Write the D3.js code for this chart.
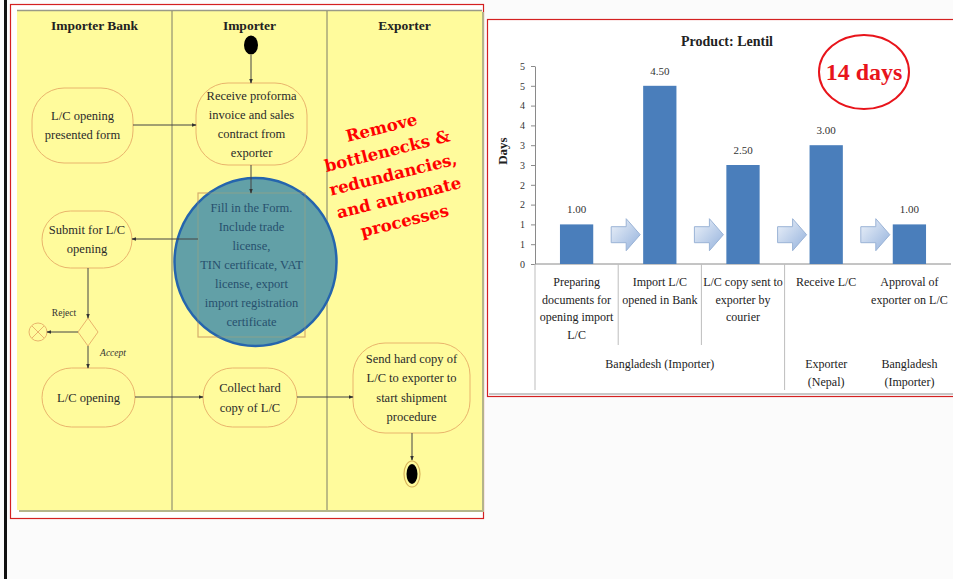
<!DOCTYPE html>
<html>
<head>
<meta charset="utf-8">
<script src="https://cdn.jsdelivr.net/npm/d3@7"></script>
<style>
  html, body { margin: 0; padding: 0; background: #fbfbfb; }
  svg { display: block; }
</style>
</head>
<body>
<svg id="view" width="953" height="579"></svg>
<script>
// ---- Activity diagram content ----
const lanes = ["Importer Bank", "Importer", "Exporter"];
const activityLabels = {
  presentedForm: ["L/C opening", "presented form"],
  receiveProforma: ["Receive proforma", "invoice and sales", "contract from", "exporter"],
  fillForm: ["Fill in the Form.", "Include trade", "license,", "TIN certificate, VAT", "license, export", "import registration", "certificate"],
  submit: ["Submit for L/C", "opening"],
  opening: ["L/C opening"],
  collect: ["Collect hard", "copy of L/C"],
  sendCopy: ["Send hard copy of", "L/C to exporter to", "start shipment", "procedure"]
};
const decisionLabels = ["Reject", "Accept"];
const callout = ["Remove", "bottlenecks &", "redundancies,", "and automate", "processes"];

// ---- Bar chart content ----
const chartTitle = "Product: Lentil";
const categories = [
  ["Preparing", "documents for", "opening import", "L/C"],
  ["Import L/C", "opened in Bank"],
  ["L/C copy sent to", "exporter by", "courier"],
  ["Receive L/C"],
  ["Approval of", "exporter on L/C"]
];
const days = [1.00, 4.50, 2.50, 3.00, 1.00];
const groupLabels = [["Bangladesh (Importer)"], ["Exporter", "(Nepal)"], ["Bangladesh", "(Importer)"]];
const groupSpans = [[0, 2], [3, 3], [4, 4]];
const yTickValues = [0, 0.5, 1, 1.5, 2, 2.5, 3, 3.5, 4, 4.5, 5];
const yTickLabels = ["0", "1", "1", "2", "2", "3", "3", "4", "4", "5", "5"];
const yTitle = "Days";
const totalLabel = "14 days";

const svg = d3.select("#view");
const serif = "'Liberation Serif', 'Times New Roman', serif";

// page edge rule
svg.append("rect").attr("x", 4).attr("y", 0).attr("width", 3).attr("height", 579).attr("fill", "#111");

// ================= Activity diagram =================
const diag = svg.append("g");
diag.append("rect").attr("x", 10.5).attr("y", 4.5).attr("width", 473).attr("height", 514)
  .attr("fill", "#fff").attr("stroke", "#d42020").attr("stroke-width", 1.2);
// sheet shadow + sheet
diag.append("rect").attr("x", 19).attr("y", 12).attr("width", 465).attr("height", 500).attr("fill", "#b4b48a");
diag.append("rect").attr("x", 17).attr("y", 10).attr("width", 465).attr("height", 500).attr("fill", "#fffb9c");
diag.append("line").attr("x1", 17).attr("x2", 482).attr("y1", 10.5).attr("y2", 10.5).attr("stroke", "#9a9a88").attr("stroke-width", 1.5);

const lane = d3.scaleBand().domain(lanes).range([17, 482]);
const laneMid = name => lane(name) + lane.bandwidth() / 2;

// lane separators
lanes.slice(1).forEach(n => {
  diag.append("line").attr("x1", lane(n)).attr("x2", lane(n)).attr("y1", 11).attr("y2", 510)
    .attr("stroke", "#7d7d68").attr("stroke-width", 1);
});
// lane headers
diag.selectAll("text.lane").data(lanes).join("text")
  .attr("x", d => laneMid(d)).attr("y", 30).attr("text-anchor", "middle")
  .attr("font-family", serif).attr("font-weight", "bold").attr("font-size", 13.5)
  .attr("fill", "#222").text(d => d);

const defs = svg.append("defs");
defs.append("marker").attr("id", "tip").attr("viewBox", "0 0 8 8").attr("refX", 7).attr("refY", 4)
  .attr("markerWidth", 5).attr("markerHeight", 5).attr("orient", "auto")
  .append("path").attr("d", "M0,1 L8,4 L0,7 Z").attr("fill", "#333");

// activities: lane, horizontal offset from lane centre, centre y, width, height
const nodes = [
  { key: "presentedForm", lane: "Importer Bank", dx: -12, cy: 125.5, w: 101, h: 75, lh: 18.5 },
  { key: "receiveProforma", lane: "Importer", dx: 2, cy: 124, w: 111, h: 82, lh: 19 },
  { key: "submit", lane: "Importer Bank", dx: -7.5, cy: 239.5, w: 90, h: 57, lh: 19 },
  { key: "opening", lane: "Importer Bank", dx: -6, cy: 397.5, w: 93, h: 59, lh: 19 },
  { key: "collect", lane: "Importer", dx: 0.5, cy: 397.5, w: 94, h: 59, lh: 20 },
  { key: "sendCopy", lane: "Exporter", dx: 7, cy: 388, w: 117, h: 90, lh: 19.5 }
];
const nodeG = diag.selectAll("g.act").data(nodes).join("g")
  .attr("transform", d => `translate(${laneMid(d.lane) + d.dx},${d.cy})`);
nodeG.append("rect")
  .attr("x", d => -d.w / 2).attr("y", d => -d.h / 2).attr("width", d => d.w).attr("height", d => d.h)
  .attr("rx", d => Math.min(32, d.h / 2)).attr("ry", d => Math.min(32, d.h / 2))
  .attr("fill", "#fffb9c").attr("stroke", "#e9b46c").attr("stroke-width", 1);
nodeG.each(function (d) {
  const lines = activityLabels[d.key];
  d3.select(this).selectAll("text").data(lines).join("text")
    .attr("x", 0).attr("y", (l, i) => (i - (lines.length - 1) / 2) * d.lh + 4)
    .attr("text-anchor", "middle").attr("font-family", serif).attr("font-size", 12.5)
    .attr("fill", "#2a2a2a").text(l => l);
});

// form-filling step with its highlight
const formX = laneMid("Importer") + 2, formY = 265;
diag.append("rect").attr("x", formX - 53.5).attr("y", 193).attr("width", 107).attr("height", 144)
  .attr("fill", "#fffb9c").attr("stroke", "#e9b46c");
diag.append("ellipse").attr("cx", formX + 4).attr("cy", 262).attr("rx", 81).attr("ry", 84)
  .attr("fill", "#62a0a7").attr("stroke", "#2565ad").attr("stroke-width", 2.5);
diag.append("rect").attr("x", formX - 53.5).attr("y", 193).attr("width", 107).attr("height", 144)
  .attr("fill", "none").attr("stroke", "#b8a56e").attr("stroke-opacity", 0.45);
diag.selectAll("text.form").data(activityLabels.fillForm).join("text")
  .attr("x", formX).attr("y", (d, i) => 212 + i * 19).attr("text-anchor", "middle")
  .attr("font-family", serif).attr("font-size", 12.5).attr("fill", "#27506e").text(d => d);

// start and end nodes
const impX = laneMid("Importer") + 1.5, expX = laneMid("Exporter") + 7.5;
diag.append("ellipse").attr("cx", impX).attr("cy", 45).attr("rx", 7).attr("ry", 9.5).attr("fill", "#000");
diag.append("ellipse").attr("cx", expX).attr("cy", 474).attr("rx", 8).attr("ry", 13)
  .attr("fill", "#fffb9c").attr("stroke", "#d8b35a").attr("stroke-width", 1.2);
diag.append("ellipse").attr("cx", expX).attr("cy", 474).attr("rx", 5.5).attr("ry", 10).attr("fill", "#000");

// decision and rejection
const decX = 88, decY = 332;
diag.append("path").attr("d", `M${decX},${decY - 14} L${decX + 10},${decY} L${decX},${decY + 14} L${decX - 10},${decY} Z`)
  .attr("fill", "#fffb9c").attr("stroke", "#e9b46c");
const rejX = 38;
diag.append("circle").attr("cx", rejX).attr("cy", decY).attr("r", 9).attr("fill", "#fffb9c").attr("stroke", "#e9b46c");
diag.append("path").attr("d", `M${rejX - 6},${decY - 6} L${rejX + 6},${decY + 6} M${rejX + 6},${decY - 6} L${rejX - 6},${decY + 6}`)
  .attr("stroke", "#e9b46c");
diag.append("text").attr("x", 64).attr("y", 316).attr("text-anchor", "middle").attr("font-family", serif)
  .attr("font-size", 9.5).attr("fill", "#333").text(decisionLabels[0]);
diag.append("text").attr("x", 113).attr("y", 356).attr("text-anchor", "middle").attr("font-family", serif)
  .attr("font-size", 9.5).attr("font-style", "italic").attr("fill", "#333").text(decisionLabels[1]);

// flows
const flows = [
  [[impX, 55], [impX, 83]],
  [[133, 125], [196, 125]],
  [[impX, 165], [impX, 193]],
  [[198, 239], [132, 239]],
  [[decX, 268], [decX, 318]],
  [[decX - 10, decY], [rejX + 9, decY]],
  [[decX, decY + 14], [decX, 368]],
  [[135, 397], [203, 397]],
  [[297, 397], [353, 397]],
  [[expX, 433], [expX, 460]]
];
diag.selectAll("path.flow").data(flows).join("path")
  .attr("d", d => d3.line()(d)).attr("stroke", "#444").attr("stroke-width", 1)
  .attr("fill", "none").attr("marker-end", "url(#tip)");

// callout
const call = diag.append("g").attr("transform", "translate(393,174) rotate(-14)");
call.selectAll("text").data(callout).join("text")
  .attr("x", 0).attr("y", (d, i) => (i - 2) * 24 + 6).attr("text-anchor", "middle")
  .attr("font-family", "'DejaVu Serif', serif").attr("font-weight", "bold").attr("font-size", 16.5)
  .attr("fill", "#f00").text(d => d);

// ================= Bar chart =================
const chart = svg.append("g");
chart.append("rect").attr("x", 487.5).attr("y", 19.5).attr("width", 470).attr("height", 377)
  .attr("fill", "#fff").attr("stroke", "#d42020").attr("stroke-width", 1.2);
chart.append("line").attr("x1", 489).attr("x2", 953).attr("y1", 394).attr("y2", 394).attr("stroke", "#c8c8c8").attr("stroke-width", 2);

chart.append("text").attr("x", 727).attr("y", 46).attr("text-anchor", "middle")
  .attr("font-family", serif).attr("font-weight", "bold").attr("font-size", 14).attr("fill", "#222").text(chartTitle);

const x = d3.scaleBand().domain(d3.range(days.length)).range([535, 951]);
const y = d3.scaleLinear().domain([0, 5]).range([264, 66]);
const bw = x.bandwidth();

// y axis
const yAxis = chart.append("g").attr("transform", "translate(535,0)")
  .call(d3.axisLeft(y).tickValues(yTickValues).tickFormat((d, i) => yTickLabels[i]).tickSize(4).tickSizeOuter(0));
yAxis.select(".domain").attr("stroke", "#8a8a8a");
yAxis.selectAll(".tick line").attr("stroke", "#8a8a8a");
yAxis.selectAll(".tick text").attr("font-family", serif).attr("font-size", 10).attr("fill", "#333").attr("x", -10);
chart.append("text").attr("transform", `translate(507,${y(2.85)}) rotate(-90)`).attr("text-anchor", "middle")
  .attr("font-family", serif).attr("font-weight", "bold").attr("font-size", 13).attr("fill", "#222").text(yTitle);

// category axis with nested dividers
chart.append("line").attr("x1", 535).attr("x2", 951).attr("y1", y(0)).attr("y2", y(0)).attr("stroke", "#8a8a8a");
const groupEdges = new Set(groupSpans.map(s => s[0]));
d3.range(days.length - 1).forEach(i => {
  const long = i === 0 || groupEdges.has(i);
  if (i === 4) return;
  chart.append("line").attr("x1", x(i)).attr("x2", x(i)).attr("y1", y(0)).attr("y2", long ? 390 : 345)
    .attr("stroke", "#bdbdbd");
});
chart.selectAll("g.cat").data(categories).join("g")
  .attr("transform", (d, i) => `translate(${x(i) + bw / 2},286)`)
  .each(function (lines) {
    d3.select(this).selectAll("text").data(lines).join("text")
      .attr("x", 0).attr("y", (l, i) => i * 17.5).attr("text-anchor", "middle")
      .attr("font-family", serif).attr("font-size", 12).attr("fill", "#222").text(l => l);
  });
chart.selectAll("g.grp").data(groupLabels).join("g")
  .attr("transform", (d, i) => `translate(${(x(groupSpans[i][0]) + x(groupSpans[i][1]) + bw) / 2},368)`)
  .each(function (lines) {
    d3.select(this).selectAll("text").data(lines).join("text")
      .attr("x", 0).attr("y", (l, i) => i * 18).attr("text-anchor", "middle")
      .attr("font-family", serif).attr("font-size", 12).attr("fill", "#222").text(l => l);
  });

// bars and value labels
const barW = bw * 0.4;
chart.selectAll("rect.bar").data(days).join("rect")
  .attr("x", (d, i) => x(i) + (bw - barW) / 2).attr("y", d => y(d))
  .attr("width", barW).attr("height", d => y(0) - y(d)).attr("fill", "#4a7ebb");
chart.selectAll("text.val").data(days).join("text")
  .attr("x", (d, i) => x(i) + bw / 2).attr("y", d => y(d) - 11).attr("text-anchor", "middle")
  .attr("font-family", serif).attr("font-size", 11).attr("fill", "#333").text(d => d.toFixed(2));

// process-flow arrows between steps
const grad = defs.append("linearGradient").attr("id", "arrowFill").attr("x1", 0).attr("y1", 0).attr("x2", 1).attr("y2", 1);
grad.append("stop").attr("offset", "0%").attr("stop-color", "#eef3fa");
grad.append("stop").attr("offset", "100%").attr("stop-color", "#93b1dc");
const ay = y(0.74);
chart.selectAll("path.step").data(d3.range(1, days.length)).join("path")
  .attr("transform", i => `translate(${x(i) - 7},${ay})`)
  .attr("d", "M0,-8 L15,-8 L15,-16 L29,0 L15,16 L15,8 L0,8 Z")
  .attr("fill", "url(#arrowFill)").attr("stroke", "#9ab3d6").attr("stroke-width", 1);

// total duration badge
chart.append("ellipse").attr("cx", 864).attr("cy", 72).attr("rx", 45).attr("ry", 37)
  .attr("fill", "none").attr("stroke", "#e8141b").attr("stroke-width", 2);
chart.append("text").attr("x", 864).attr("y", 80).attr("text-anchor", "middle")
  .attr("font-family", serif).attr("font-weight", "bold").attr("font-size", 24).attr("fill", "#e8141b").text(totalLabel);
</script>
</body>
</html>
